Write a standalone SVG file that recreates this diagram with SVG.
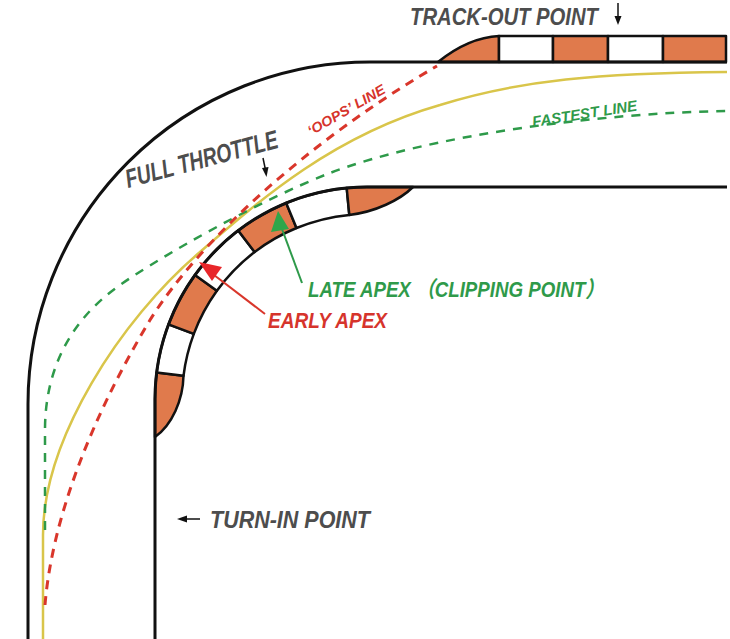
<svg xmlns="http://www.w3.org/2000/svg" width="730" height="639" viewBox="0 0 730 639">
<defs>
<style>
.edge{fill:none;stroke:#111;stroke-width:3;stroke-linecap:butt}
.kerb{stroke:#111;stroke-width:2.5;stroke-linejoin:round}
.o{fill:#e07a4c}
.w{fill:#fff}
.red{fill:none;stroke:#d9362b;stroke-width:3;stroke-dasharray:9 7}
.green{fill:none;stroke:#2e9a4a;stroke-width:2.5;stroke-dasharray:9 8}
.yellow{fill:none;stroke:#d9c54a;stroke-width:2.5}
.lbl{font-family:"Liberation Sans","Noto Sans CJK SC",sans-serif;font-weight:bold;font-style:italic}
.gray{fill:#4d4d4d}
.tred{fill:#d6342c}
.tgreen{fill:#2f9a4a}
</style>
</defs>
<rect width="730" height="639" fill="#fff"/>

<g id="kerb-top">
<path class="kerb o" d="M438,62 C458,46 478,37 499,36 L499,62 Z"/>
<rect class="kerb w" x="499" y="36" width="54" height="26"/>
<rect class="kerb o" x="553" y="36" width="55" height="26"/>
<rect class="kerb w" x="608" y="36" width="55" height="26"/>
<rect class="kerb o" x="663" y="36" width="63" height="26"/>
</g>

<g id="kerb-inner">
<path class="kerb o" d="M155,437 L155,399 A212,212 0 0 1 156.7,372.4 L183.5,375.8 C183,400 172,425 155,437 Z"/>
<path class="kerb w" d="M156.7,372.4 A212,212 0 0 1 168.5,324.4 L193.8,333.9 A185,185 0 0 0 183.5,375.8 Z"/>
<path class="kerb o" d="M168.5,324.4 A212,212 0 0 1 195,275 L216.9,290.8 A185,185 0 0 0 193.8,333.9 Z"/>
<path class="kerb w" d="M195,275 A212,212 0 0 1 238.2,230.6 L254.6,252 A185,185 0 0 0 216.9,290.8 Z"/>
<path class="kerb o" d="M238.2,230.6 A212,212 0 0 1 286.2,203 L296.5,228 A185,185 0 0 0 254.6,252 Z"/>
<path class="kerb w" d="M286.2,203 A212,212 0 0 1 346.7,188 L349.3,214.9 A185,185 0 0 0 296.5,228 Z"/>
<path class="kerb o" d="M346.7,188 A212,212 0 0 1 367,187 L413,187 C400,200 375,212 349.3,214.9 Z"/>
</g>

<g id="track-outer">
<path class="edge" d="M28,639 L28,404 A342,342 0 0 1 370,62 L727,62"/>
</g>
<g id="track-inner">
<path class="edge" d="M155,639 L155,399 A212,212 0 0 1 367,187 L727,187"/>
</g>

<g id="racing-lines">
<path id="yellow-line" class="yellow" d="M43,639 L43,535 C43,440 120,320 200,252 C262,198 335,135 440,105 C520,80 600,73 727,72"/>
<path id="fastest-line" class="green" d="M45,530 L45,430 C45,370 70,320 120,285 C160,257 260,200 330,173 C430,135 600,113 727,111"/>
<path id="oops-line" class="red" d="M45,605 C52,520 90,420 150,320 C200,240 310,140 437,66"/>
</g>

<g id="connectors">
<path d="M618,3 L618,18" stroke="#111" stroke-width="1.5"/>
<path d="M614.5,16 L618,25 L621.5,16 Z" fill="#111"/>
<path d="M263,158 L265.5,170" stroke="#111" stroke-width="1.5"/>
<path d="M262,168 L266.5,177 L268.5,167 Z" fill="#111"/>
<path d="M200,519 L186,519" stroke="#111" stroke-width="1.5"/>
<path d="M187,515.5 L177,519 L187,522.5 Z" fill="#111"/>
<path d="M265,314 L214,275" stroke="#d9362b" stroke-width="2"/>
<path d="M199,262 L222,267 L212,281 Z" fill="#e8262a"/>
<path d="M302,283 L282,229" stroke="#2e9a4a" stroke-width="2"/>
<path d="M278,211 L271,232 L289,229 Z" fill="#2fa64a"/>
</g>

<g id="labels">
<text id="track-out" class="lbl gray" x="410" y="25" font-size="23" textLength="188" lengthAdjust="spacingAndGlyphs">TRACK-OUT POINT</text>
<text id="full-throttle" class="lbl gray" x="128" y="188" font-size="26" transform="rotate(-15 128 188)" textLength="157" lengthAdjust="spacingAndGlyphs">FULL THROTTLE</text>
<text id="oops" class="lbl tred" x="311" y="136" font-size="14" transform="rotate(-30 311 136)" textLength="87" lengthAdjust="spacingAndGlyphs">‘OOPS’ LINE</text>
<text id="fastest" class="lbl tgreen" x="533" y="127" font-size="15" transform="rotate(-9 533 127)" textLength="106" lengthAdjust="spacingAndGlyphs">FASTEST LINE</text>
<text id="late-apex" class="lbl tgreen" x="308" y="297" font-size="22" textLength="296" lengthAdjust="spacingAndGlyphs">LATE APEX （CLIPPING POINT）</text>
<text id="early-apex" class="lbl tred" x="268" y="328" font-size="22" textLength="119" lengthAdjust="spacingAndGlyphs">EARLY APEX</text>
<text id="turn-in" class="lbl gray" x="210" y="528" font-size="23" textLength="160" lengthAdjust="spacingAndGlyphs">TURN-IN POINT</text>
</g>
</svg>
